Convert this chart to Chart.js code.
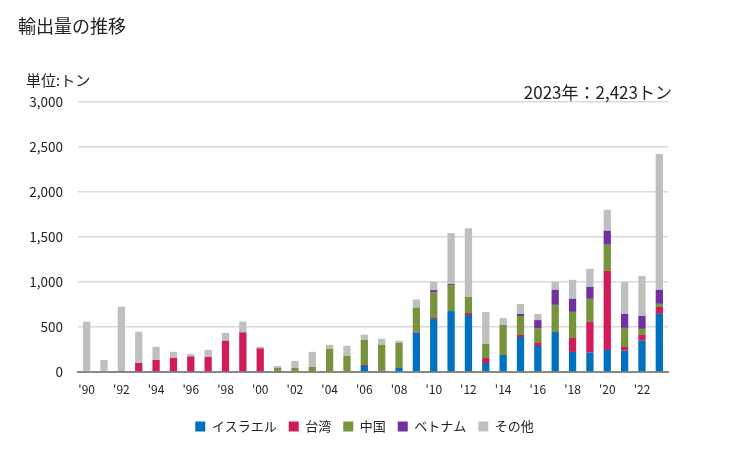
<!DOCTYPE html>
<html><head><meta charset="utf-8">
<script src="https://cdn.jsdelivr.net/npm/chart.js@4/dist/chart.umd.min.js"></script>
<style>
html,body{margin:0;padding:0;background:#fff;}
#wrap{position:relative;width:729px;height:450px;font-family:"Noto Sans CJK JP","Noto Sans",sans-serif;color:#222;}
#title{position:absolute;left:18px;top:13px;font-size:18px;line-height:24px;}
#unit{position:absolute;left:26px;top:70px;font-size:15px;line-height:20px;}
#note{position:absolute;right:57px;top:81px;font-size:17px;line-height:22px;}
canvas{position:absolute;left:0;top:0;}
</style></head>
<body><div id="wrap">
<canvas id="c" width="729" height="450"></canvas>
<div id="title">輸出量の推移</div>
<div id="unit">単位:トン</div>
<div id="note">2023年：2,423トン</div>
</div>
<script>
const years = [1990,1991,1992,1993,1994,1995,1996,1997,1998,1999,2000,2001,2002,2003,2004,2005,2006,2007,2008,2009,2010,2011,2012,2013,2014,2015,2016,2017,2018,2019,2020,2021,2022,2023];
const tickLabels = ["'90","","'92","","'94","","'96","","'98","","'00","","'02","","'04","","'06","","'08","","'10","","'12","","'14","","'16","","'18","","'20","","'22",""];
const seriesNames = ["イスラエル","台湾","中国","ベトナム","その他"];
const israel  = [0,0,0,0,0,0,0,0,0,0,0,0,0,0,0,0,67,0,45,436,588,677,633,100,189,389,289,445,223,215,245,237,349,646];
const taiwan  = [0,0,11,100,134,157,170,168,347,440,261,15,0,0,0,0,11,15,0,12,12,0,22,55,0,22,33,0,155,342,879,41,63,77];
const china   = [0,0,0,0,0,0,8,0,0,7,8,30,45,56,257,179,280,287,279,268,288,289,178,156,333,211,166,301,290,256,290,212,67,34];
const vietnam = [0,0,0,0,0,0,0,0,0,0,0,0,0,0,0,0,0,0,0,0,22,11,0,0,0,22,89,167,145,133,155,156,144,156];
const other   = [560,134,716,348,146,67,22,78,89,113,11,22,78,168,45,112,56,67,23,89,90,566,765,355,77,111,67,89,211,200,234,352,445,1510];
const colors = ["#0070c0","#d01c5b","#77933c","#7030a0","#bfbfbf"];
const yTicks = [0,500,1000,1500,2000,2500,3000];

const dataArrays = [israel,taiwan,china,vietnam,other];
new Chart(document.getElementById('c'), {
  type:'bar',
  data:{
    labels: years,
    datasets: dataArrays.map((d,i)=>({label:seriesNames[i],data:d,backgroundColor:colors[i],borderWidth:0,barPercentage:0.42,categoryPercentage:1}))
  },
  options:{
    responsive:false,animation:false,
    layout:{padding:{left:0,right:0,top:102,bottom:7}},
    plugins:{
      tooltip:{enabled:false},
      legend:{position:'bottom',labels:{boxWidth:10,boxHeight:10,padding:12,color:'#222',font:{size:13,family:"'Noto Sans CJK JP'"}}}
    },
    scales:{
      x:{stacked:true,
        grid:{display:false,drawTicks:false},
        border:{color:'#888',width:2},
        ticks:{autoSkip:false,maxRotation:0,padding:10,color:'#222',font:{size:12,family:"'Noto Sans CJK JP'"},callback:(v,i)=>tickLabels[i]},
        afterFit:s=>{s.height=36;}
      },
      y:{stacked:true,min:0,max:3000,
        afterBuildTicks:s=>{s.ticks=yTicks.map(v=>({value:v}));},
        grid:{color:'#d9d9d9',drawTicks:false,lineWidth:1.5},
        border:{display:false},
        ticks:{padding:15,color:'#222',font:{size:13.5,family:"'Noto Sans CJK JP'"},callback:v=>v.toLocaleString('en-US')},
        afterFit:s=>{s.width=78;}
      },
      yRight:{position:'right',min:0,max:3000,
        grid:{display:false,drawTicks:false},
        border:{display:false},
        ticks:{display:false},
        afterFit:s=>{s.width=61;}
      }
    }
  }
});
</script>
</body></html>
